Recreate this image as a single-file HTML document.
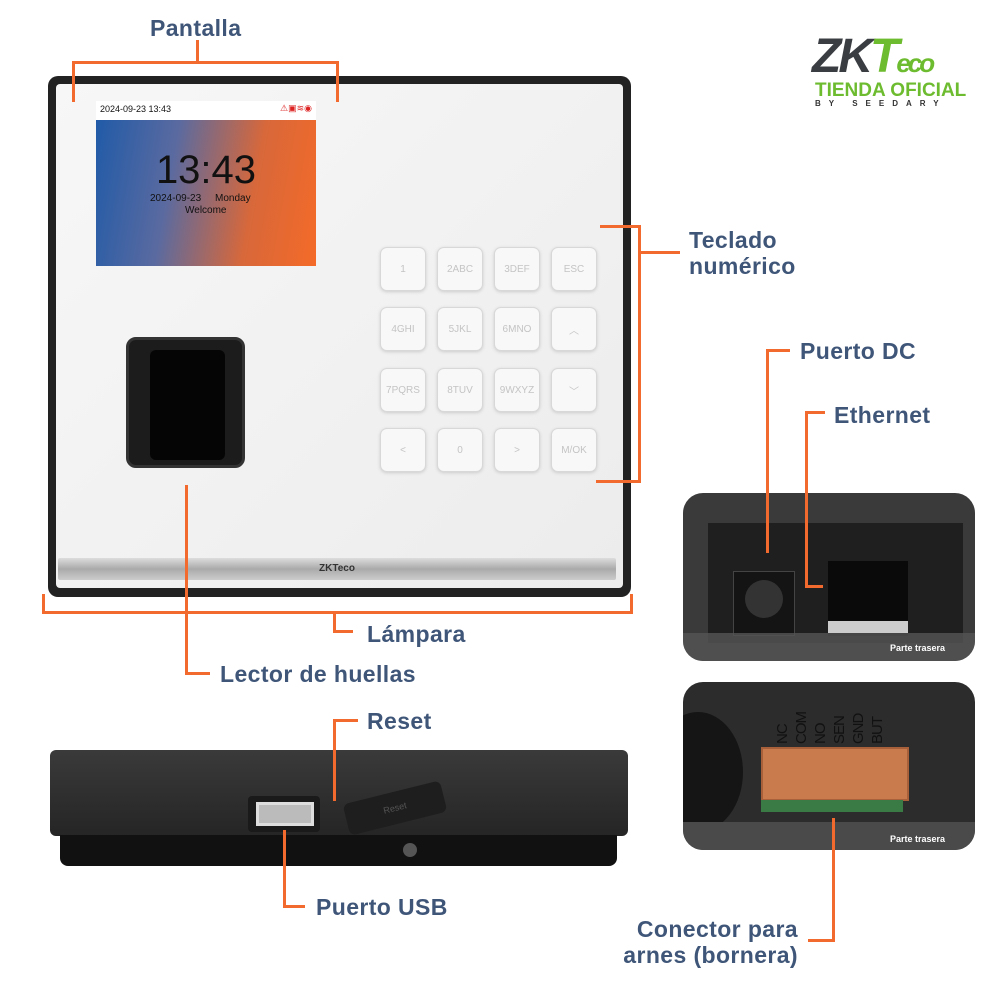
<!DOCTYPE html>
<html><head><meta charset="utf-8"><style>
*{margin:0;padding:0;box-sizing:border-box}
body{width:1000px;height:1000px;background:#fff;position:relative;overflow:hidden;font-family:"Liberation Sans",sans-serif}
.a{position:absolute}
.o{position:absolute;background:#f26a2d}
.lb{position:absolute;color:#3f5679;font-weight:bold;font-size:23px;letter-spacing:0.4px;line-height:26px}
.k{position:absolute;width:46px;height:44px;border:1.5px solid #d8d8d8;border-radius:7px;background:#f8f8f8;box-shadow:0 1px 3px #ccc;color:#c4c4c4;font-size:10px;display:flex;align-items:center;justify-content:center}
</style></head><body>
<!-- main device -->
<div class="a" style="left:48px;top:76px;width:583px;height:521px;background:#222;border-radius:10px"></div>
<div class="a" style="left:56px;top:84px;width:567px;height:504px;background:linear-gradient(135deg,#f7f7f7,#ececec);border-radius:4px"></div>
<div class="a" style="left:96px;top:101px;width:220px;height:165px;background:linear-gradient(100deg,#1e5aa8 0%,#5a6aa0 35%,#d8683a 70%,#f46a28 100%)"></div>
<div class="a" style="left:96px;top:101px;width:220px;height:19px;background:#fff;font-size:9px;padding:3px 4px;color:#111">2024-09-23 13:43<span style="position:absolute;right:4px;top:2px;color:#d22">⚠▣≋◉</span></div>
<div class="a" style="left:96px;top:148px;width:220px;text-align:center;font-size:40px;color:#111">13:43</div>
<div class="a" style="left:150px;top:193px;font-size:10px;color:#111">2024-09-23 &nbsp;&nbsp;&nbsp;&nbsp;Monday</div>
<div class="a" style="left:185px;top:205px;font-size:10px;color:#111">Welcome</div>
<div class="a" style="left:126px;top:337px;width:119px;height:131px;background:#1c1c1c;border-radius:10px;border:3px solid #333"></div>
<div class="a" style="left:150px;top:350px;width:75px;height:110px;background:#050505;border-radius:6px"></div>
<div class="a" style="left:58px;top:558px;width:558px;height:22px;background:linear-gradient(#ddd,#aaa,#ccc);border-radius:2px;font-size:10px;text-align:center;line-height:22px;color:#333;font-weight:bold">ZKTeco</div>
<div class="k" style="left:380px;top:247px">1</div><div class="k" style="left:437px;top:247px">2ABC</div><div class="k" style="left:494px;top:247px">3DEF</div><div class="k" style="left:551px;top:247px">ESC</div>
<div class="k" style="left:380px;top:307px">4GHI</div><div class="k" style="left:437px;top:307px">5JKL</div><div class="k" style="left:494px;top:307px">6MNO</div><div class="k" style="left:551px;top:307px">︿</div>
<div class="k" style="left:380px;top:368px">7PQRS</div><div class="k" style="left:437px;top:368px">8TUV</div><div class="k" style="left:494px;top:368px">9WXYZ</div><div class="k" style="left:551px;top:368px">﹀</div>
<div class="k" style="left:380px;top:428px">&lt;</div><div class="k" style="left:437px;top:428px">0</div><div class="k" style="left:494px;top:428px">&gt;</div><div class="k" style="left:551px;top:428px">M/OK</div>
<!-- logo -->
<div class="a" style="left:812px;top:32px;font-size:48px;font-weight:bold;font-style:italic;color:#3a3d42;letter-spacing:-3px;line-height:50px">ZK<span style="color:#6dbb2f">T<span style="font-size:26px">eco</span></span></div>
<div class="a" style="left:815px;top:81px;font-size:19px;font-weight:bold;color:#6dbb2f;line-height:20px">TIENDA OFICIAL</div>
<div class="a" style="left:815px;top:99px;font-size:8px;letter-spacing:8px;color:#333;font-weight:bold">BY SEEDARY</div>
<!-- side device -->
<div class="a" style="left:50px;top:750px;width:578px;height:86px;background:linear-gradient(#3a3a3a,#252525);border-radius:6px"></div>
<div class="a" style="left:60px;top:835px;width:557px;height:31px;background:#111;border-radius:0 0 8px 8px"></div>
<div class="a" style="left:248px;top:796px;width:72px;height:36px;background:#1a1a1a;border-radius:4px"></div>
<div class="a" style="left:256px;top:802px;width:58px;height:24px;background:#bbb;border:3px solid #ddd"></div>
<div class="a" style="left:345px;top:792px;width:100px;height:32px;background:#1e1e1e;border-radius:6px;transform:rotate(-14deg);color:#555;font-size:9px;text-align:center;line-height:32px">Reset</div>
<div class="a" style="left:403px;top:843px;width:14px;height:14px;background:#555;border-radius:50%"></div>
<!-- photo 1 -->
<div class="a" style="left:683px;top:493px;width:292px;height:168px;border-radius:20px;overflow:hidden;background:#3a3a3a">
 <div class="a" style="left:25px;top:30px;width:255px;height:120px;background:#1f1f1f"></div>
 <div class="a" style="left:50px;top:78px;width:62px;height:65px;background:#141414;border:1px solid #444"></div>
 <div class="a" style="left:62px;top:87px;width:38px;height:38px;background:#333;border-radius:50%"></div>
 <div class="a" style="left:145px;top:68px;width:80px;height:75px;background:#0a0a0a"></div>
 <div class="a" style="left:145px;top:128px;width:80px;height:12px;background:#ccc"></div>
 <div class="a" style="left:0;top:140px;width:292px;height:28px;background:#555;opacity:.8"></div>
 <div class="a" style="left:207px;top:150px;font-size:9px;color:#fff;font-weight:bold">Parte trasera</div>
</div>
<!-- photo 2 -->
<div class="a" style="left:683px;top:682px;width:292px;height:168px;border-radius:20px;overflow:hidden;background:#2c2c2c">
 <div class="a" style="left:-30px;top:30px;width:90px;height:120px;background:#151515;border-radius:50%"></div>
 <div class="a" style="left:90px;top:12px;width:120px;font-size:15px;color:#111;writing-mode:vertical-rl;transform:rotate(180deg);height:50px;line-height:19px;letter-spacing:-1px">NC COM NO SEN GND BUT</div>
 <div class="a" style="left:78px;top:65px;width:148px;height:54px;background:#c97b4e;border:2px solid #a8603a"></div>
 <div class="a" style="left:78px;top:118px;width:142px;height:12px;background:#3a7a45"></div>
 <div class="a" style="left:0;top:140px;width:292px;height:28px;background:#4a4a4a"></div>
 <div class="a" style="left:207px;top:152px;font-size:9px;color:#fff;font-weight:bold">Parte trasera</div>
</div>
<!-- orange lines -->
<div class="o" style="left:72px;top:61px;width:267px;height:3px"></div>
<div class="o" style="left:72px;top:61px;width:3px;height:41px"></div>
<div class="o" style="left:336px;top:61px;width:3px;height:41px"></div>
<div class="o" style="left:196px;top:40px;width:3px;height:22px"></div>
<div class="o" style="left:600px;top:225px;width:41px;height:3px"></div>
<div class="o" style="left:638px;top:225px;width:3px;height:258px"></div>
<div class="o" style="left:596px;top:480px;width:45px;height:3px"></div>
<div class="o" style="left:638px;top:251px;width:42px;height:3px"></div>
<div class="o" style="left:42px;top:611px;width:591px;height:3px"></div>
<div class="o" style="left:42px;top:594px;width:3px;height:20px"></div>
<div class="o" style="left:630px;top:594px;width:3px;height:20px"></div>
<div class="o" style="left:333px;top:611px;width:3px;height:22px"></div>
<div class="o" style="left:333px;top:630px;width:20px;height:3px"></div>
<div class="o" style="left:185px;top:485px;width:3px;height:190px"></div>
<div class="o" style="left:185px;top:672px;width:25px;height:3px"></div>
<div class="o" style="left:766px;top:349px;width:3px;height:204px"></div>
<div class="o" style="left:766px;top:349px;width:24px;height:3px"></div>
<div class="o" style="left:805px;top:411px;width:3px;height:177px"></div>
<div class="o" style="left:805px;top:411px;width:20px;height:3px"></div>
<div class="o" style="left:805px;top:585px;width:18px;height:3px"></div>
<div class="o" style="left:333px;top:719px;width:3px;height:82px"></div>
<div class="o" style="left:333px;top:719px;width:25px;height:3px"></div>
<div class="o" style="left:283px;top:830px;width:3px;height:78px"></div>
<div class="o" style="left:283px;top:905px;width:22px;height:3px"></div>
<div class="o" style="left:832px;top:818px;width:3px;height:124px"></div>
<div class="o" style="left:808px;top:939px;width:27px;height:3px"></div>
<!-- labels -->
<div class="lb" style="left:150px;top:15px">Pantalla</div>
<div class="lb" style="left:689px;top:227px">Teclado<br>numérico</div>
<div class="lb" style="left:800px;top:338px">Puerto DC</div>
<div class="lb" style="left:834px;top:402px">Ethernet</div>
<div class="lb" style="left:367px;top:621px">Lámpara</div>
<div class="lb" style="left:220px;top:661px">Lector de huellas</div>
<div class="lb" style="left:367px;top:708px">Reset</div>
<div class="lb" style="left:316px;top:894px">Puerto USB</div>
<div class="lb" style="left:598px;top:916px;text-align:right;width:200px">Conector para<br>arnes (bornera)</div>
</body></html>
